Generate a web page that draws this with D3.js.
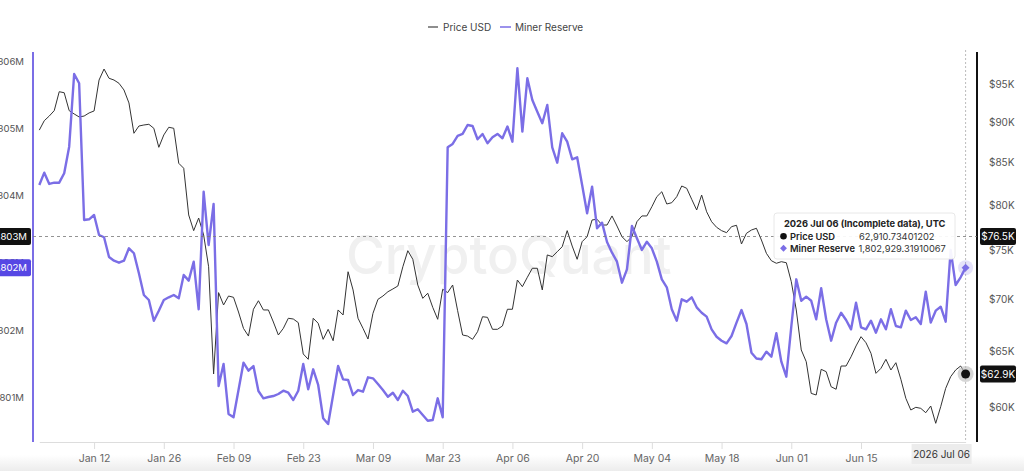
<!DOCTYPE html>
<html>
<head>
<meta charset="utf-8">
<script src="https://cdn.jsdelivr.net/npm/d3@7"></script>
<style>
html, body { margin: 0; padding: 0; background: #fff; }
svg { display: block; font-family: Inter, "Noto Sans", sans-serif; }
</style>
</head>
<body>
<div id="chart"></div>
<script>
// daily series, first value is 2026 Jan 01
const startDay = "2026-01-01";

const priceUsd = [
	89000, 90200, 90800, 91500, 94000, 93860, 91500, 91070, 90680, 90800,
	91200, 91460, 95570, 97080, 95810, 95570, 95130, 94230, 92510, 88600,
	89520, 89650, 89740, 89230, 86850, 88390, 89360, 89230, 84900, 84300,
	78880, 77140, 78540, 76670, 73280, 62910, 70630, 69400, 70290, 70160,
	68710, 67130, 66400, 68980, 69820, 68910, 68910, 67740, 66500, 67130,
	68100, 68030, 67680, 64730, 64240, 68100, 67620, 66090, 67040, 65960,
	68910, 68420, 72760, 70900, 68100, 67130, 66120, 68580, 69960, 70290,
	70720, 71000, 71300, 73280, 74970, 74060, 71400, 70060, 70570, 69170,
	68000, 70970, 70630, 71400, 68840, 66500, 66400, 66090, 66810, 68250,
	68190, 67040, 67040, 67360, 68980, 68980, 71910, 71230, 72190, 73120,
	73120, 70900, 74520, 74340, 74860, 75400, 77140, 75470, 74060, 75940,
	76480, 78320, 78400, 77760, 77760, 78770, 77650, 76480, 75940, 76480,
	78130, 78770, 78770, 79810, 80960, 81530, 80120, 80270, 80960, 82200,
	81930, 80660, 79440, 81150, 79240, 78130, 77510, 77140, 76920, 77580,
	77730, 75690, 76850, 77210, 77400, 76120, 74690, 73910, 73640, 73810,
	73700, 71740, 68910, 65100, 64020, 61200, 61060, 63330, 63120, 61780,
	61560, 63630, 63630, 64470, 65470, 66340, 65770, 64790, 62970, 63420,
	64240, 63270, 63930, 62440, 60770, 59770, 60000, 59910, 59540, 60110,
	58650, 60050, 61640, 62670, 63270, 63630, 62910.73401202
];

const minerReserve = [
	1804158, 1804341, 1804173, 1804192, 1804192, 1804332, 1804727, 1805807, 1805669, 1803638,
	1803648, 1803712, 1803415, 1803381, 1803088, 1803033, 1803003, 1803033, 1803217, 1803143,
	1802846, 1802523, 1802449, 1802141, 1802290, 1802449, 1802489, 1802523, 1802474, 1802820,
	1802736, 1803018, 1802311, 1804058, 1803266, 1803875, 1801171, 1801498, 1800755, 1800706,
	1801111, 1801517, 1801398, 1801468, 1801097, 1800988, 1801007, 1801022, 1801052, 1801101,
	1801071, 1800963, 1801101, 1801498, 1801122, 1801419, 1801186, 1800691, 1800606, 1801037,
	1801468, 1801270, 1801260, 1801037, 1801111, 1801086, 1801300, 1801285, 1801201, 1801111,
	1801012, 1801071, 1800963, 1801101, 1801022, 1800789, 1800825, 1800740, 1800655, 1800666,
	1800988, 1800706, 1804718, 1804767, 1804886, 1804916, 1805049, 1805034, 1804837, 1804916,
	1804777, 1804867, 1804916, 1804852, 1805027, 1804801, 1805892, 1804950, 1805743, 1805421,
	1805247, 1805075, 1805347, 1804718, 1804489, 1804926, 1804801, 1804540, 1804569, 1804158,
	1803737, 1804132, 1803514, 1803598, 1803311, 1803152, 1803018, 1802706, 1802905, 1803548,
	1803366, 1803192, 1803315, 1803217, 1803018, 1802756, 1802638, 1802311, 1802141, 1802459,
	1802424, 1802489, 1802340, 1802260, 1802201, 1802013, 1801903, 1801844, 1801805, 1801914,
	1802112, 1802300, 1802092, 1801666, 1801580, 1801568, 1801681, 1801606, 1801954, 1801532,
	1801309, 1802052, 1802756, 1802438, 1802498, 1802438, 1802162, 1802623, 1802162, 1801844,
	1802112, 1802260, 1802152, 1802013, 1802409, 1802043, 1802013, 1802141, 1801963, 1802162,
	1802013, 1802311, 1802062, 1802043, 1802290, 1802152, 1802192, 1802092, 1802572, 1802112,
	1802290, 1802349, 1802126, 1803192, 1802672, 1802786, 1802929.31910067
];

const xTickDates = ["2026-01-12", "2026-01-26", "2026-02-09", "2026-02-23", "2026-03-09", "2026-03-23",
	"2026-04-06", "2026-04-20", "2026-05-04", "2026-05-18", "2026-06-01", "2026-06-15"];
const reserveTicks = [1801000, 1802000, 1803000, 1804000, 1805000, 1806000];
const priceTicks = [60000, 65000, 70000, 75000, 80000, 85000, 90000, 95000];
const seriesNames = ["Price USD", "Miner Reserve"];
const hoverPrice = 76500; // where the crosshair sits
const tooltipTitle = "2026 Jul 06 (Incomplete data), UTC";

const WIDTH = 1024;
const HEIGHT = 471;
const PLOT = { LEFT: 39.3, RIGHT: 965.6, TOP: 52, BOTTOM: 442 };
const LEFT_AXIS_X = 33;
const RIGHT_AXIS_X = 977;

const PURPLE = "#7b6ee6";
const PRICE_COLOR = "#333";

const start = d3.isoParse(startDay);
const dates = priceUsd.map((d, i) => d3.utcDay.offset(start, i));
const lastDate = dates[dates.length - 1];

const svg = d3.select("#chart")
	.append("svg")
	.attr("width", WIDTH)
	.attr("height", HEIGHT);

// bottom fade, like the screenshot edge
const defs = svg.append("defs");
const grad = defs.append("linearGradient").attr("id", "fade").attr("x1", 0).attr("x2", 0).attr("y1", 0).attr("y2", 1);
grad.append("stop").attr("offset", "0%").attr("stop-color", "#fff");
grad.append("stop").attr("offset", "100%").attr("stop-color", "#ececec");
svg.append("rect").attr("x", 0).attr("y", 455).attr("width", WIDTH).attr("height", 16).attr("fill", "url(#fade)");

const xScale = d3.scaleUtc().domain([start, lastDate]).range([PLOT.LEFT, PLOT.RIGHT]);
const yReserve = d3.scaleLinear().domain([1801000, 1806000]).range([397.5, 61]);
const yPrice = d3.scaleLog().domain([60000, 95000]).range([407.3, 84.25]);

// watermark
svg.append("text")
	.attr("x", 346)
	.attr("y", 274)
	.attr("font-size", 53)
	.attr("font-weight", 500)
	.attr("fill", "#f0f0f0")
	.text("CryptoQuant");

// legend
const legend = svg.append("g").attr("font-size", 10).attr("fill", "#444");
legend.append("line").attr("x1", 428).attr("x2", 438).attr("y1", 27).attr("y2", 27).attr("stroke", "#444").attr("stroke-width", 1.2);
legend.append("text").attr("x", 443).attr("y", 30.5).text(seriesNames[0]);
legend.append("line").attr("x1", 500).attr("x2", 511).attr("y1", 27).attr("y2", 27).attr("stroke", PURPLE).attr("stroke-width", 1.5);
legend.append("text").attr("x", 515).attr("y", 30.5).text(seriesNames[1]);

// x axis
const xAxisCall = d3.axisBottom(xScale)
	.tickValues(xTickDates.map(d3.isoParse))
	.tickFormat(d3.utcFormat("%b %d"))
	.tickSize(7)
	.tickSizeOuter(0)
	.tickPadding(6);
const xAxisGroup = svg.append("g").attr("transform", `translate(0, ${PLOT.BOTTOM})`).call(xAxisCall);
xAxisGroup.select(".domain").attr("stroke", "#ddd");
xAxisGroup.selectAll(".tick line").attr("stroke", "#ddd");
xAxisGroup.selectAll("text").attr("fill", "#666").attr("font-size", 10.5).attr("font-family", "Inter, sans-serif");

// left axis (miner reserve) - labels run off the left edge like the source
const yLeftCall = d3.axisLeft(yReserve)
	.tickValues(reserveTicks)
	.tickFormat((d) => (d / 1e6).toFixed(3) + "M")
	.tickSize(0)
	.tickPadding(9);
const yLeftGroup = svg.append("g").attr("transform", `translate(${LEFT_AXIS_X}, 0)`).call(yLeftCall);
yLeftGroup.select(".domain").remove();
yLeftGroup.selectAll("text").attr("fill", "#555").attr("font-size", 9.6).attr("font-family", "Inter, sans-serif");
svg.append("line").attr("x1", LEFT_AXIS_X).attr("x2", LEFT_AXIS_X).attr("y1", PLOT.TOP).attr("y2", PLOT.BOTTOM)
	.attr("stroke", PURPLE).attr("stroke-width", 2);

// right axis (price, log)
const yRightCall = d3.axisRight(yPrice)
	.tickValues(priceTicks)
	.tickFormat((d) => "$" + d / 1000 + "K")
	.tickSize(0)
	.tickPadding(12);
const yRightGroup = svg.append("g").attr("transform", `translate(${RIGHT_AXIS_X}, 0)`).call(yRightCall);
yRightGroup.select(".domain").remove();
yRightGroup.selectAll("text").attr("fill", "#555").attr("font-size", 10).attr("font-family", "Inter, sans-serif");
svg.append("line").attr("x1", RIGHT_AXIS_X).attr("x2", RIGHT_AXIS_X).attr("y1", PLOT.TOP).attr("y2", PLOT.BOTTOM)
	.attr("stroke", "#111").attr("stroke-width", 2);

// lines
const priceLine = d3.line().x((d, i) => xScale(dates[i])).y((d) => yPrice(d));
const reserveLine = d3.line().x((d, i) => xScale(dates[i])).y((d) => yReserve(d));

svg.append("path")
	.datum(priceUsd)
	.attr("fill", "none")
	.attr("stroke", PRICE_COLOR)
	.attr("stroke-width", 1)
	.attr("stroke-linejoin", "round")
	.attr("d", priceLine);

svg.append("path")
	.datum(minerReserve)
	.attr("fill", "none")
	.attr("stroke", PURPLE)
	.attr("stroke-width", 2.4)
	.attr("stroke-linejoin", "round")
	.attr("d", reserveLine);

// crosshair
const lastX = xScale(lastDate);
const hoverY = yPrice(hoverPrice);
const hoverReserve = yReserve.invert(hoverY);

svg.append("line").attr("x1", LEFT_AXIS_X).attr("x2", RIGHT_AXIS_X).attr("y1", hoverY).attr("y2", hoverY)
	.attr("stroke", "#777").attr("stroke-width", 0.8).attr("stroke-dasharray", "3,3");
svg.append("line").attr("x1", lastX).attr("x2", lastX).attr("y1", PLOT.TOP - 2).attr("y2", PLOT.BOTTOM)
	.attr("stroke", "#bbb").attr("stroke-width", 1).attr("stroke-dasharray", "2,2");

// end markers
const lastPrice = priceUsd[priceUsd.length - 1];
const lastReserve = minerReserve[minerReserve.length - 1];
svg.append("circle").attr("cx", lastX).attr("cy", yPrice(lastPrice)).attr("r", 8).attr("fill", "#bbb").attr("opacity", 0.6);
svg.append("circle").attr("cx", lastX).attr("cy", yPrice(lastPrice)).attr("r", 4.5).attr("fill", "#111");
svg.append("circle").attr("cx", lastX).attr("cy", yReserve(lastReserve)).attr("r", 7.5).attr("fill", PURPLE).attr("opacity", 0.2);
svg.append("path")
	.attr("d", d3.symbol(d3.symbolDiamond2, 40)())
	.attr("transform", `translate(${lastX}, ${yReserve(lastReserve)})`)
	.attr("fill", PURPLE);

// tooltip
const tip = svg.append("g").attr("transform", "translate(774, 213)").attr("font-size", 9.3);
tip.append("rect").attr("width", 181).attr("height", 46).attr("rx", 3)
	.attr("fill", "#fff").attr("fill-opacity", 0.93).attr("stroke", "#e8e8e8");
tip.append("text").attr("x", 10).attr("y", 14).attr("font-weight", 700).attr("fill", "#222").text(tooltipTitle);
const fmtFull = (v) => d3.format(",.8f")(v);
tip.append("circle").attr("cx", 9.5).attr("cy", 23.3).attr("r", 3.3).attr("fill", "#111");
tip.append("text").attr("x", 16).attr("y", 27).attr("font-weight", 600).attr("fill", "#222").text(seriesNames[0]);
tip.append("text").attr("x", 85).attr("y", 27).attr("fill", "#333").text(fmtFull(lastPrice));
tip.append("path").attr("d", d3.symbol(d3.symbolDiamond2, 30)()).attr("transform", "translate(9.5, 35.3)").attr("fill", PURPLE);
tip.append("text").attr("x", 16).attr("y", 39).attr("font-weight", 600).attr("fill", "#222").text(seriesNames[1]);
tip.append("text").attr("x", 84.5).attr("y", 39).attr("fill", "#333").text(fmtFull(lastReserve));

// axis value labels
function valueBox(x, y, w, fill, label, anchor) {
	const g = svg.append("g").attr("transform", `translate(${x}, ${y})`);
	g.append("rect").attr("x", 0).attr("y", -8.5).attr("width", w).attr("height", 17).attr("rx", 2).attr("fill", fill);
	g.append("text")
		.attr("x", anchor === "end" ? w - 4 : w / 2)
		.attr("y", 3.6)
		.attr("text-anchor", anchor)
		.attr("font-size", anchor === "end" ? 9.6 : 10)
		.attr("fill", "#fff")
		.text(label);
}
const fmtReserve = (v) => (Math.floor(v / 1000) / 1000).toFixed(3) + "M";
const fmtPrice = (v) => "$" + (v / 1000).toFixed(1) + "K";

valueBox(-4, hoverY, 35, "#111", fmtReserve(hoverReserve), "end");
valueBox(-4, yReserve(lastReserve), 35, "#5647e4", fmtReserve(lastReserve), "end");
valueBox(980, hoverY, 36, "#111", fmtPrice(hoverPrice), "middle");
valueBox(980, yPrice(lastPrice), 36, "#111", fmtPrice(lastPrice), "middle");

// current date label under the crosshair
const dateBox = svg.append("g").attr("transform", `translate(${lastX - 54}, 444)`);
dateBox.append("rect").attr("width", 60).attr("height", 20).attr("fill", "#ececec");
dateBox.append("text").attr("x", 30).attr("y", 13.5).attr("text-anchor", "middle").attr("font-size", 10).attr("fill", "#333")
	.text(d3.utcFormat("%Y %b %d")(lastDate));
</script>
</body>
</html>
